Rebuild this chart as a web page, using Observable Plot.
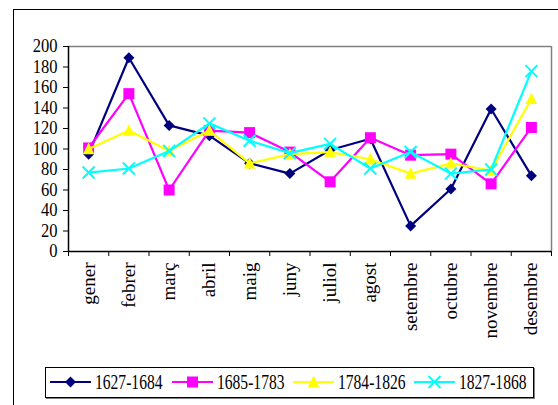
<!DOCTYPE html>
<html>
<head>
<meta charset="utf-8">
<script src="https://cdn.jsdelivr.net/npm/d3@7"></script>
<script src="https://cdn.jsdelivr.net/npm/@observablehq/plot@0.6"></script>
<style>
  html, body { margin: 0; padding: 0; background: #fff; overflow: hidden; }
  #wrap { position: relative; width: 558px; height: 405px; overflow: hidden; font-family: "Liberation Serif", "Times New Roman", serif; }
  #outer { position: absolute; left: 13px; top: 9px; width: 700px; height: 600px; border: 1px solid #000; box-sizing: border-box; }
  #chart { position: absolute; left: 0; top: 0; }
  #legend { position: absolute; left: 45px; top: 367px; width: 489px; height: 31px; border: 1px solid #000; box-sizing: border-box; box-shadow: 1px 1px 0 #808080; background: #fff; }
  .item { position: absolute; top: 0; height: 29px; }
  .item svg { position: absolute; left: 0; top: 4px; }
  .item span { position: absolute; left: 45px; top: 3px; font-size: 20.5px; line-height: 22px; white-space: nowrap; transform: scaleX(0.76); transform-origin: 0 50%; color: #000; font-family: "Liberation Serif", "Times New Roman", serif; }
</style>
</head>
<body>
<div id="wrap">
  <div id="outer"></div>
  <div id="chart"></div>
  <div id="legend"></div>
</div>
<script>
// ---- data ----
const months = ["gener", "febrer", "març", "abril", "maig", "juny", "juliol", "agost", "setembre", "octubre", "novembre", "desembre"];
const seriesNames = ["1627-1684", "1685-1783", "1784-1826", "1827-1868"];
const s1627 = [95, 189, 123, 113, 86, 76, 99, 110, 25, 61, 139, 74];
const s1685 = [101, 154, 60, 118, 116, 97, 68, 111, 94, 95, 66, 121];
const s1784 = [100, 118, 98, 118, 86, 95, 97, 90, 76, 86, 79, 149];
const s1827 = [77, 81, 98, 125, 108, 96, 105, 81, 97, 76, 80, 176];
const yTicks = [0, 20, 40, 60, 80, 100, 120, 140, 160, 180, 200];

// ---- styling ----
const seriesValues = [s1627, s1685, s1784, s1827];
const colors = ["#000080", "#FF00FF", "#FFFF00", "#00FFFF"];

const symDiamond = { draw(ctx, size) { const r = Math.sqrt(size / Math.PI); ctx.moveTo(0, -r); ctx.lineTo(r, 0); ctx.lineTo(0, r); ctx.lineTo(-r, 0); ctx.closePath(); } };
const symSquare = { draw(ctx, size) { const r = Math.sqrt(size / Math.PI); ctx.rect(-r, -r, 2 * r, 2 * r); } };
const symTriangle = { draw(ctx, size) { const r = Math.sqrt(size / Math.PI); ctx.moveTo(0, -r * 1.1); ctx.lineTo(r, r * 0.9); ctx.lineTo(-r, r * 0.9); ctx.closePath(); } };
const symX = { draw(ctx, size) { const r = Math.sqrt(size / Math.PI); ctx.moveTo(-r, -r); ctx.lineTo(r, r); ctx.moveTo(r, -r); ctx.lineTo(-r, r); } };
const symbols = [symDiamond, symSquare, symTriangle, symX];
const radii = [5.5, 5.5, 5.8, 6];

const rows = seriesNames.flatMap((name, k) => months.map((m, i) => ({ series: name, k, month: m, i, value: seriesValues[k][i] })));

const marks = [
  Plot.ruleY([200], { stroke: "#808080", strokeWidth: 1.5 }),
  Plot.ruleX([12], { stroke: "#808080", strokeWidth: 1.5 }),
  Plot.axisY({ ticks: yTicks, tickSize: 5, tickPadding: 6, fontSize: 18, stroke: "#000", label: null }),
  Plot.axisX({ ticks: d3.range(0, months.length + 1), tickSize: 5, tickFormat: () => "", stroke: "#000", label: null }),
  Plot.axisX({ ticks: months.map((m, i) => i + 0.5), tickSize: 0, tickPadding: 11, tickRotate: -90, fontSize: 19, tickFormat: d => months[Math.floor(d)], label: null }),
  Plot.ruleX([0], { stroke: "#000", strokeWidth: 1.5 }),
  Plot.ruleY([0], { stroke: "#000", strokeWidth: 1.5 })
];

seriesNames.forEach((name, k) => {
  const data = rows.filter(d => d.k === k);
  marks.push(Plot.line(data, { x: d => d.i + 0.5, y: "value", stroke: colors[k], strokeWidth: 2.2 }));
  if (k === 3) {
    marks.push(Plot.dot(data, { x: d => d.i + 0.5, y: "value", symbol: symbols[k], r: radii[k], stroke: colors[k], strokeWidth: 2, fill: "none" }));
  } else {
    marks.push(Plot.dot(data, { x: d => d.i + 0.5, y: "value", symbol: symbols[k], r: radii[k], fill: colors[k], stroke: "none" }));
  }
});

const chart = Plot.plot({
  width: 558,
  height: 360,
  marginLeft: 68,
  marginRight: 7,
  marginTop: 46,
  marginBottom: 109,
  style: { fontFamily: "Liberation Serif, Times New Roman, serif", color: "#000", background: "transparent", overflow: "visible" },
  x: { type: "linear", domain: [0, months.length], label: null },
  y: { type: "linear", domain: [0, 200], label: null },
  marks
});
document.getElementById("chart").appendChild(chart);

// narrow the y tick labels slightly, as in the reference
chart.querySelectorAll('g[aria-label="y-axis tick label"] text').forEach(t => {
  const tr = t.getAttribute("transform") || "";
  t.setAttribute("transform", tr + " scale(0.92,1)");
});

// ---- legend ----
const legend = document.getElementById("legend");
const lefts = [4, 126, 247, 368];
seriesNames.forEach((name, k) => {
  const item = document.createElement("div");
  item.className = "item";
  item.style.left = lefts[k] + "px";
  const svg = d3.create("svg").attr("width", 41).attr("height", 20);
  svg.append("line").attr("x1", 0).attr("x2", 41).attr("y1", 10).attr("y2", 10).attr("stroke", colors[k]).attr("stroke-width", 2.2);
  const path = d3.symbol(symbols[k], radii[k] * radii[k] * Math.PI)();
  const p = svg.append("path").attr("d", path).attr("transform", "translate(20.5,10)");
  if (k === 3) p.attr("fill", "none").attr("stroke", colors[k]).attr("stroke-width", 2);
  else p.attr("fill", colors[k]);
  item.appendChild(svg.node());
  const span = document.createElement("span");
  span.textContent = name;
  item.appendChild(span);
  legend.appendChild(item);
});
</script>
</body>
</html>
